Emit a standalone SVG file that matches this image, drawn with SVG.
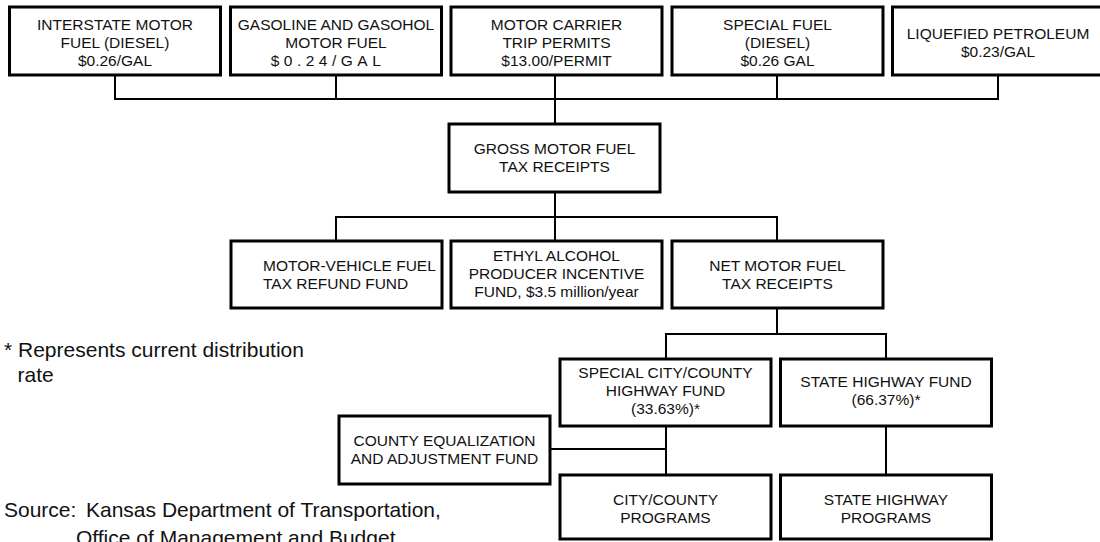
<svg xmlns="http://www.w3.org/2000/svg" width="1100" height="542" viewBox="0 0 1100 542">
<style>
.box{fill:#fff;stroke:#000;stroke-width:3}
.ln{fill:none;stroke:#000;stroke-width:2}
.t{font-family:"Liberation Sans",Arial,sans-serif;font-size:15.5px;fill:#111;text-anchor:middle}
.l{text-anchor:start}
.note{font-family:"Liberation Sans",Arial,sans-serif;font-size:21px;fill:#111}
</style>
<rect width="1100" height="542" fill="#fff"/>
<g id="connectors">
<path class="ln" d="M115 75V99H998V75M336 75V99M555 75V124M777 75V99"/>
<path class="ln" d="M555 192V241M336 241V217H777V241"/>
<path class="ln" d="M777 308V334M666 359V334H886V359"/>
<path class="ln" d="M666 426V475M550 449H666M886 426V475"/>
</g>
<g id="interstate"><rect class="box" x="9.5" y="7" width="211" height="68"/>
<text class="t" x="115" y="30">INTERSTATE MOTOR</text><text class="t" x="115" y="48">FUEL (DIESEL)</text><text class="t" x="115" y="66">$0.26/GAL</text></g>
<g id="gasoline"><rect class="box" x="230.5" y="7" width="211" height="68"/>
<text class="t" x="336" y="30">GASOLINE AND GASOHOL</text><text class="t" x="336" y="48">MOTOR FUEL</text><text class="t" x="328" y="66" letter-spacing="4.5">$0.24/GAL</text></g>
<g id="carrier"><rect class="box" x="451" y="7" width="211" height="68"/>
<text class="t" x="556.5" y="30">MOTOR CARRIER</text><text class="t" x="556.5" y="48">TRIP PERMITS</text><text class="t" x="556.5" y="66">$13.00/PERMIT</text></g>
<g id="special-fuel"><rect class="box" x="672" y="7" width="211" height="68"/>
<text class="t" x="777.5" y="30">SPECIAL FUEL</text><text class="t" x="777.5" y="48">(DIESEL)</text><text class="t" x="777.5" y="66">$0.26 GAL</text></g>
<g id="lpg"><rect class="box" x="892.5" y="7" width="211" height="68"/>
<text class="t" x="998" y="38.5">LIQUEFIED PETROLEUM</text><text class="t" x="998" y="56.5">$0.23/GAL</text></g>
<g id="gross"><rect class="box" x="449" y="124" width="211" height="68"/>
<text class="t" x="554.5" y="153.5">GROSS MOTOR FUEL</text><text class="t" x="554.5" y="171.5">TAX RECEIPTS</text></g>
<g id="refund"><rect class="box" x="231" y="241" width="211" height="67"/>
<text class="t l" x="263" y="270.5">MOTOR-VEHICLE FUEL</text><text class="t l" x="263" y="288.5">TAX REFUND FUND</text></g>
<g id="ethyl"><rect class="box" x="451" y="241" width="211" height="67"/>
<text class="t" x="556.5" y="261">ETHYL ALCOHOL</text><text class="t" x="556.5" y="279">PRODUCER INCENTIVE</text><text class="t" x="556.5" y="297">FUND, $3.5 million/year</text></g>
<g id="net"><rect class="box" x="672" y="241" width="211" height="67"/>
<text class="t" x="777.5" y="270.5">NET MOTOR FUEL</text><text class="t" x="777.5" y="288.5">TAX RECEIPTS</text></g>
<g id="city-county-fund"><rect class="box" x="560" y="359" width="211" height="67"/>
<text class="t" x="665.5" y="378">SPECIAL CITY/COUNTY</text><text class="t" x="665.5" y="396">HIGHWAY FUND</text><text class="t" x="665.5" y="414">(33.63%)*</text></g>
<g id="state-fund"><rect class="box" x="780.5" y="359" width="211" height="67"/>
<text class="t" x="886" y="387">STATE HIGHWAY FUND</text><text class="t" x="886" y="405">(66.37%)*</text></g>
<g id="county-eq"><rect class="box" x="339" y="416" width="211" height="68"/>
<text class="t" x="444.5" y="445.5">COUNTY EQUALIZATION</text><text class="t" x="444.5" y="464">AND ADJUSTMENT FUND</text></g>
<g id="city-county-programs"><rect class="box" x="560" y="475" width="211" height="64"/>
<text class="t" x="665.5" y="504.5">CITY/COUNTY</text><text class="t" x="665.5" y="522.5">PROGRAMS</text></g>
<g id="state-programs"><rect class="box" x="780.5" y="475" width="211" height="64"/>
<text class="t" x="886" y="504.5">STATE HIGHWAY</text><text class="t" x="886" y="522.5">PROGRAMS</text></g>
<g id="notes">
<text class="note" x="4" y="357">* Represents current distribution</text>
<text class="note" x="17.5" y="382">rate</text>
<text class="note" x="4" y="517">Source:<tspan x="86">Kansas Department of Transportation,</tspan></text>
<text class="note" x="76" y="545">Office of Management and Budget</text>
</g>
</svg>
